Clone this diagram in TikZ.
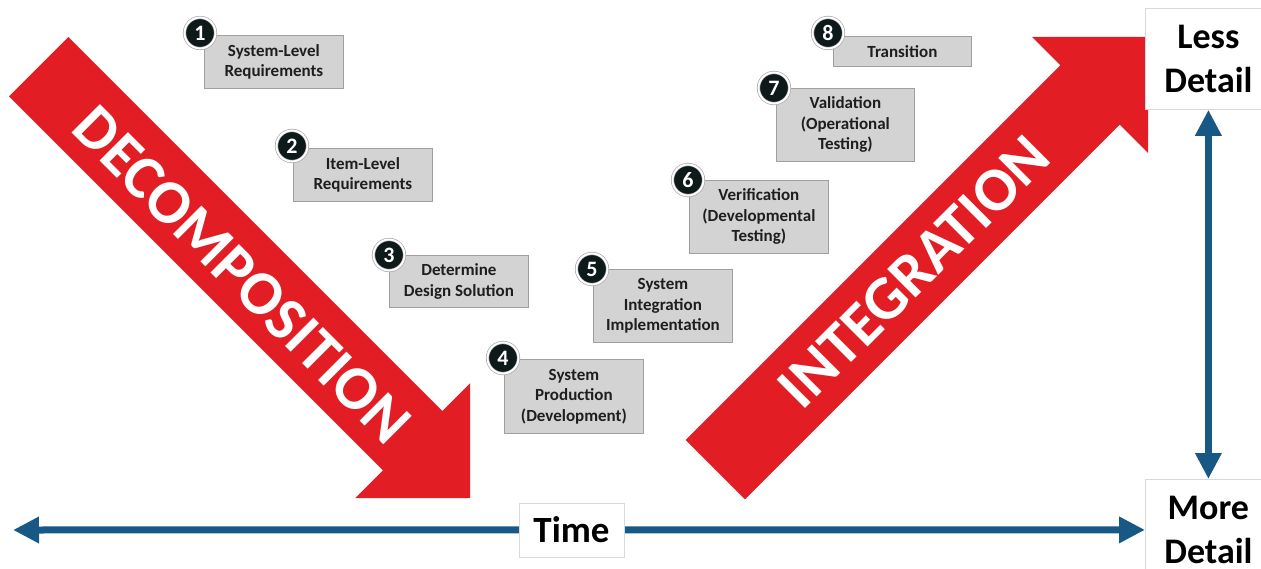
\documentclass[tikz,border=0pt]{standalone}
\usepackage{fontspec}
\setmainfont{Carlito}
\usetikzlibrary{arrows.meta}
\definecolor{arrowred}{RGB}{227,29,36}
\definecolor{axisblue}{RGB}{24,88,133}
\definecolor{boxfill}{RGB}{211,211,212}
\definecolor{boxline}{RGB}{160,160,160}
\definecolor{badgeblack}{RGB}{14,26,26}
\definecolor{textdark}{RGB}{30,30,30}
\begin{document}
\begin{tikzpicture}[x=1pt,y=-1pt,
  stepbox/.style={draw=boxline, fill=boxfill, line width=0.8pt, minimum width=139pt,
    align=center, inner sep=0pt, text=textdark, anchor=north west,
    font=\bfseries\fontsize{17}{20.5}\selectfont},
  badge/.style={circle, fill=badgeblack, draw=boxline, double=white, double distance=2pt,
    line width=0.6pt, minimum size=31pt, inner sep=0pt, text=white,
    font=\bfseries\fontsize{22}{22}\selectfont},
  detailbox/.style={draw=black!15, fill=white, line width=0.8pt, minimum width=126pt,
    minimum height=101pt, align=center, inner sep=0pt, anchor=north west,
    font=\bfseries\fontsize{36}{44}\selectfont},
  timebox/.style={draw=black!15, fill=white, line width=0.8pt, minimum width=105pt,
    minimum height=54pt, inner sep=0pt, font=\bfseries\fontsize{37}{37}\selectfont},
  bigword/.style={text=white, inner sep=0pt, font=\bfseries\fontsize{62}{62}\selectfont},
  axis/.style={draw=axisblue, line width=7pt,
    {Triangle[width=25pt,length=26pt]}-{Triangle[width=25pt,length=26pt]}}
]
\useasboundingbox (0,0) rectangle (1261,569);
\clip (0,0) rectangle (1261,569);
\fill[white] (0,0) rectangle (1261,569);

% red block arrows
\fill[arrowred] (68.4,37) -- (442.4,411) -- (470,383.4) -- (470,498) -- (355.4,498)
  -- (383,470.4) -- (9,96.4) -- cycle;
\node[bigword, rotate=-45] (dec) at (242,275) {DECOMPOSITION};
\fill[arrowred] (685.6,440) -- (1060.3,65.3) -- (1032,37) -- (1148,37) -- (1148,153)
  -- (1119.7,124.7) -- (745,499.4) -- cycle;
\node[bigword, rotate=45] (int) at (914,272) {INTEGRATION};

% step boxes
\node[stepbox, minimum height=53pt] (b1) at (204,35) {System-Level\\Requirements};
\node[stepbox, minimum height=53pt] (b2) at (293,148) {Item-Level\\Requirements};
\node[stepbox, minimum height=52pt] (b3) at (389,255) {Determine\\Design Solution};
\node[stepbox, minimum height=74pt] (b4) at (504,359) {System\\Production\\(Development)};
\node[stepbox, minimum height=73pt] (b5) at (593,269) {System\\Integration\\Implementation};
\node[stepbox, minimum height=73pt] (b6) at (689,180) {Verification\\(Developmental\\Testing)};
\node[stepbox, minimum height=73pt, minimum width=138pt] (b7) at (776,88) {Validation\\(Operational\\Testing)};
\node[stepbox, minimum height=30pt, minimum width=138pt] (b8) at (833,36) {Transition};

% number badges
\node[badge] (n1) at ([shift={(-4,-2)}]b1.north west) {1};
\node[badge] (n2) at ([shift={(-1,-2)}]b2.north west) {2};
\node[badge] (n3) at ([shift={(0,0)}]b3.north west) {3};
\node[badge] (n4) at ([shift={(-1,-1)}]b4.north west) {4};
\node[badge] (n5) at ([shift={(-1,0)}]b5.north west) {5};
\node[badge] (n6) at ([shift={(-1,0)}]b6.north west) {6};
\node[badge] (n7) at ([shift={(-2,0)}]b7.north west) {7};
\node[badge] (n8) at ([shift={(-5,-3)}]b8.north west) {8};

% detail boxes and axes
\node[detailbox] (ld) at (1145,8) {Less\\Detail};
\node[detailbox] (md) at (1145,479) {More\\Detail};
\coordinate (tl) at (13,530);
\draw[axis] (tl) -- (md.west);
\draw[axis] (ld.south) -- (md.north);
\node[timebox] (time) at (571.5,530) {Time};
\end{tikzpicture}
\end{document}
